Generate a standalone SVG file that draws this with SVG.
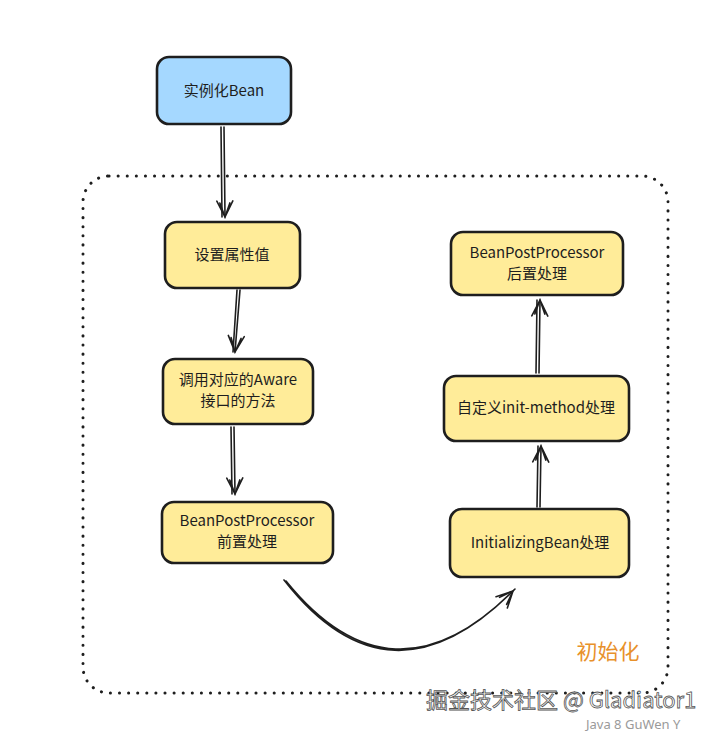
<svg xmlns="http://www.w3.org/2000/svg" width="728" height="735" viewBox="0 0 728 735">
<defs>
<style>
.box{stroke:#1e1e1e;stroke-width:2.6;}
.y{fill:#ffec99;}
.b{fill:#a5d8ff;}
.t{font-family:"Noto Sans CJK SC","Noto Sans",sans-serif;font-size:15px;fill:#1e1e1e;text-anchor:middle;}
.c{fill:none;stroke:#1e1e1e;stroke-width:1.6;stroke-linecap:round;stroke-linejoin:round;}
</style>
<marker id="ah" viewBox="0 0 20 20" refX="18" refY="10" markerWidth="20" markerHeight="20" markerUnits="userSpaceOnUse" orient="auto">
<path d="M2 2 L18 10 L2 18 M4 5 L18 10 L4 15" fill="none" stroke="#1e1e1e" stroke-width="1.6" stroke-linecap="round"/>
</marker>
</defs>
<rect width="728" height="735" fill="#ffffff"/>
<g id="container">
<rect x="83" y="176" width="585" height="517" rx="26" fill="none" stroke="#1e1e1e" stroke-width="3" stroke-dasharray="0.1 9" stroke-linecap="round"/>
<text x="608" y="659" font-family="Noto Sans CJK SC,sans-serif" font-size="21" fill="#e8912b" text-anchor="middle">初始化</text>
</g>
<g id="connectors">
<path class="c" d="M221 127 L222 217 M224 127 L225 217" marker-end="url(#ah)"/>
<path class="c" d="M237 290 L233 352 M240 290 L235 352" marker-end="url(#ah)"/>
<path class="c" d="M231 427 L232 494 M234 427 L235 494" marker-end="url(#ah)"/>
<path class="c" d="M284 580 Q390 716 515 589 M286 581 Q392 712 513 591" marker-end="url(#ah)"/>
<path class="c" d="M536 373 L537 300 M539 373 L540 300" marker-end="url(#ah)"/>
<path class="c" d="M537 507 L538 446 M540 507 L541 446" marker-end="url(#ah)"/>
</g>
<g id="n1"><rect class="box b" x="157" y="57" width="134" height="67" rx="12"/><text class="t" x="224" y="96">实例化Bean</text></g>
<g id="n2"><rect class="box y" x="165" y="222" width="135" height="66" rx="12"/><text class="t" x="232" y="260">设置属性值</text></g>
<g id="n3"><rect class="box y" x="163" y="359" width="150" height="65" rx="12"/><text class="t" x="238" y="385">调用对应的Aware</text><text class="t" x="238" y="406">接口的方法</text></g>
<g id="n4"><rect class="box y" x="162" y="502" width="171" height="61" rx="12"/><text class="t" x="247" y="526">BeanPostProcessor</text><text class="t" x="247" y="547">前置处理</text></g>
<g id="n5"><rect class="box y" x="451" y="232" width="172" height="63" rx="12"/><text class="t" x="537" y="258">BeanPostProcessor</text><text class="t" x="537" y="279">后置处理</text></g>
<g id="n6"><rect class="box y" x="444" y="376" width="185" height="65" rx="12"/><text class="t" x="536" y="413">自定义init-method处理</text></g>
<g id="n7"><rect class="box y" x="450" y="509" width="179" height="68" rx="12"/><text class="t" x="540" y="548">InitializingBean处理</text></g>
<g id="watermark">
<text x="426" y="708" font-family="Noto Sans CJK SC,sans-serif" font-size="22" fill="#ffffff" stroke="#555555" stroke-width="0.8">掘金技术社区 @ Gladiator1</text>
<text x="586" y="729" font-family="Noto Sans,sans-serif" font-size="13" fill="#9a9a9a">Java 8 GuWen Y</text>
</g>
</svg>
